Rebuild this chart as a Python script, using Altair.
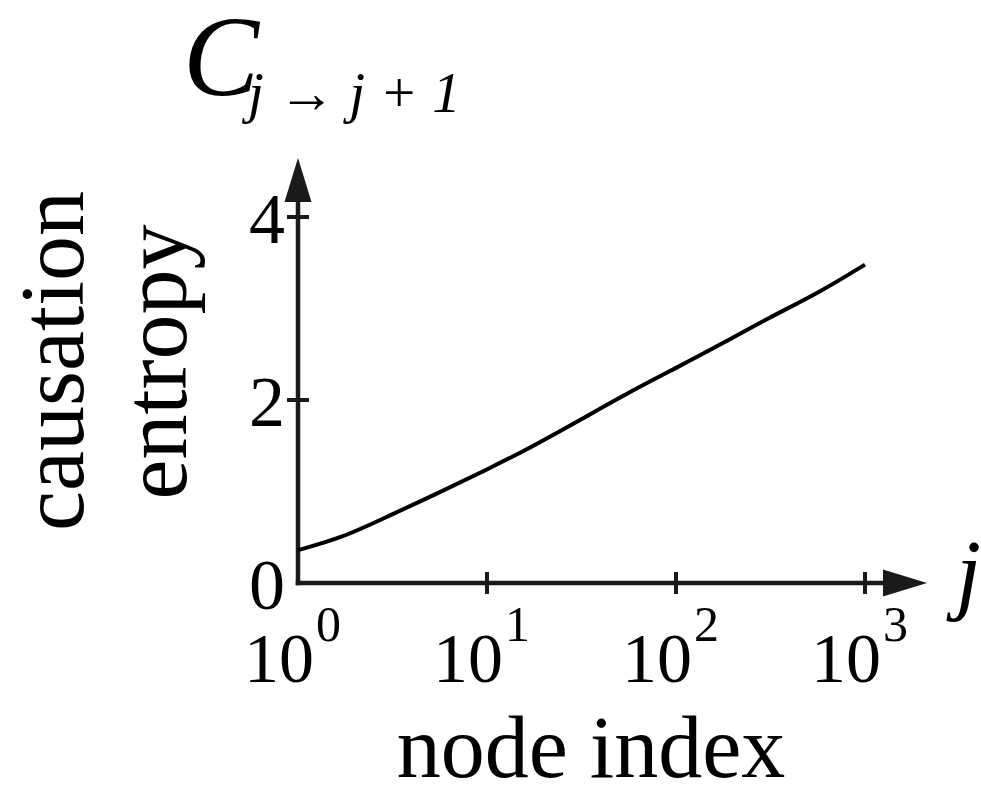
import altair as alt
import pandas as pd

# Causation entropy C_{j->j+1} along the chain, read at node index j
node_j = [1, 1.7, 3, 5.6, 10, 17, 31, 57, 100, 170, 310, 580, 1000]
entropy_c = [0.36, 0.49, 0.73, 0.99, 1.24, 1.48, 1.78, 2.09, 2.35, 2.60, 2.90, 3.18, 3.48]

# Axis decorations
x_tick_values = [10, 100, 1000]
x_label_values = [1, 10, 100, 1000]
x_label_exponents = ["0", "1", "2", "3"]
y_tick_values = [2, 4]
y_label_values = [0, 2, 4]
y_label_text = ["0", "2", "4"]

# Scale extents (arrow tips) and where the axis shafts stop
X_TIP, Y_TIP = 2128, 4.645
X_SHAFT, Y_SHAFT = 1550, 4.45

W, H = 629, 425
SERIF = "Liberation Serif"
INK = "#1a1a1a"

xs = alt.Scale(type="log", domain=[1, X_TIP], nice=False)
ys = alt.Scale(domain=[0, Y_TIP], nice=False, zero=False)


def X(field):
    return alt.X(field, type="quantitative", scale=xs, axis=None)


def Y(field):
    return alt.Y(field, type="quantitative", scale=ys, axis=None)


curve_df = pd.DataFrame({"j": node_j, "c": entropy_c})
curve = alt.Chart(curve_df).mark_line(
    color="black", strokeWidth=4, interpolate="basis"
).encode(x=X("j"), y=Y("c"))

# Axis shafts
x_axis = alt.Chart(pd.DataFrame({"x": [1], "x2": [X_SHAFT], "y": [0]})).mark_rule(
    color=INK, strokeWidth=4.5, strokeCap="square"
).encode(x=X("x"), x2="x2:Q", y=Y("y"))
y_axis = alt.Chart(pd.DataFrame({"x": [1], "y": [0], "y2": [Y_SHAFT]})).mark_rule(
    color=INK, strokeWidth=4.5, strokeCap="square"
).encode(x=X("x"), y=Y("y"), y2="y2:Q")

# Arrow heads
x_arrow = alt.Chart(pd.DataFrame({"x": [X_TIP], "y": [0]})).mark_point(
    shape="M0,0 L-2,-0.614 L-2,0.614 Z", size=1936, filled=True, fill=INK,
    stroke=INK, strokeWidth=0, opacity=1
).encode(x=X("x"), y=Y("y"))
y_arrow = alt.Chart(pd.DataFrame({"x": [1], "y": [Y_TIP]})).mark_point(
    shape="M0,0 L0.614,2 L-0.614,2 Z", size=1936, filled=True, fill=INK,
    stroke=INK, strokeWidth=0, opacity=1
).encode(x=X("x"), y=Y("y"))

# Ticks crossing the axes
x_ticks = alt.Chart(pd.DataFrame({"x": x_tick_values, "y": [0] * len(x_tick_values)})).mark_tick(
    orient="vertical", size=22, thickness=4, color=INK, opacity=1
).encode(x=X("x"), y=Y("y"))
y_ticks = alt.Chart(pd.DataFrame({"y": y_tick_values, "x": [1] * len(y_tick_values)})).mark_tick(
    orient="horizontal", size=22, thickness=4, color=INK, opacity=1
).encode(x=X("x"), y=Y("y"))

# Tick labels: 10 with superscript exponent
xl_df = pd.DataFrame({
    "x": x_label_values,
    "y": [0] * len(x_label_values),
    "base": ["10"] * len(x_label_values),
    "exp": x_label_exponents,
})
x_base = alt.Chart(xl_df).mark_text(
    align="right", baseline="alphabetic", dx=16, dy=99, font=SERIF, fontSize=70, color="black"
).encode(x=X("x"), y=Y("y"), text="base:N")
x_exp = alt.Chart(xl_df).mark_text(
    align="left", baseline="alphabetic", dx=18, dy=58, font=SERIF, fontSize=50, color="black"
).encode(x=X("x"), y=Y("y"), text="exp:N")

yl_df = pd.DataFrame({"y": y_label_values, "x": [1] * len(y_label_values), "t": y_label_text})
y_labels = alt.Chart(yl_df).mark_text(
    align="right", baseline="alphabetic", dx=-13, dy=26, font=SERIF, fontSize=72, color="black"
).encode(x=X("x"), y=Y("y"), text="t:N")


def note(text, x, y, size, **kw):
    return alt.Chart(pd.DataFrame({"t": [text]})).mark_text(
        font=SERIF, fontSize=size, color="black", **kw
    ).encode(x=alt.value(x), y=alt.value(y), text="t:N")


x_title = note("node index", 293, 619, 88, align="center", baseline="alphabetic")
y_title1 = note("causation", -215, 203, 90, align="center", baseline="alphabetic", angle=270)
y_title2 = note("entropy", -112, 204, 90, align="center", baseline="alphabetic", angle=270)
c_main = note("C", -115, -63, 114, align="left", baseline="alphabetic", fontStyle="italic")
c_sub = note("j → j + 1", -50, -46, 57, align="left", baseline="alphabetic", fontStyle="italic")
j_label = note("j", 658, 445, 90, align="left", baseline="alphabetic", fontStyle="italic")

chart = alt.layer(
    x_axis, y_axis, x_arrow, y_arrow, x_ticks, y_ticks, curve,
    x_base, x_exp, y_labels,
    x_title, y_title1, y_title2, c_main, c_sub, j_label,
).properties(
    width=W,
    height=H,
    padding={"left": 298, "top": 158, "right": 54, "bottom": 203},
    autosize=alt.AutoSizeParams(type="none"),
    background="white",
).configure_view(stroke=None)

chart.save("out.html", embed_options={"renderer": "svg", "actions": False})
